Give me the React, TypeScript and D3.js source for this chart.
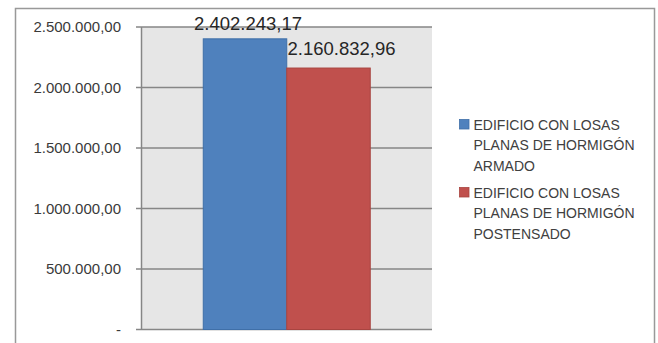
import React from "react";
import * as d3 from "d3";

const categories = ["Costo"];
const seriesNames = [
  ["EDIFICIO CON LOSAS", "PLANAS DE HORMIGÓN", "ARMADO"],
  ["EDIFICIO CON LOSAS", "PLANAS DE HORMIGÓN", "POSTENSADO"],
];
const seriesKeys = ["armado", "postensado"];
const seriesValues = [2402243.17, 2160832.96];
const seriesColors = ["#4f81bd", "#c0504d"];
const seriesStroke = ["#3f6fa8", "#a84440"];
const yTicks = [0, 500000, 1000000, 1500000, 2000000, 2500000];

const locale = d3.formatLocale({ decimal: ",", thousands: ".", grouping: [3], currency: ["", ""] });
const fmt = locale.format(",.2f");
const fmtTick = (v: number) => (v === 0 ? "-" : fmt(v));

export default function App() {
  const W = 658, H = 343;
  const plotL = 141.5, plotR = 432, plotT = 27, plotB = 329.5;
  const y = d3.scaleLinear().domain([0, 2500000]).range([plotB, plotT]);
  const x0 = d3.scaleBand<string>().domain(categories).range([plotL, plotR]).paddingInner(0.27).paddingOuter(0.27);
  const x1 = d3.scaleBand<string>().domain(seriesKeys).range([0, x0.bandwidth()]);
  const labelDx = [3, 13];
  const labelDy = [-9, -13];
  const font = "'Liberation Sans', Arial, sans-serif";

  return (
    <svg width={W} height={H} style={{ position: "absolute", left: 0, top: 0, background: "#fff" }}>
      <rect x={15.5} y={8.5} width={639} height={400} fill="#fff" stroke="#999" strokeWidth={1.5} />
      <rect x={plotL} y={plotT} width={plotR - plotL} height={plotB - plotT} fill="#e6e6e6" />
      {yTicks.map((t) => (
        <g key={t}>
          <line x1={136} x2={plotR} y1={y(t)} y2={y(t)} stroke="#868686" strokeWidth={1.5} />
          <text x={121} y={y(t) + 5} textAnchor="end" fontFamily={font} fontSize={15} fill="#3a3a3a">
            {fmtTick(t)}
          </text>
        </g>
      ))}
      <line x1={plotL} x2={plotL} y1={plotT} y2={plotB} stroke="#868686" strokeWidth={1.5} />
      {categories.map((c) => (
        <g key={c} transform={`translate(${x0(c)},0)`}>
          {seriesKeys.map((k, i) => (
            <g key={k}>
              <rect
                x={x1(k)!}
                y={y(seriesValues[i])}
                width={x1.bandwidth()}
                height={plotB - y(seriesValues[i])}
                fill={seriesColors[i]}
                stroke={seriesStroke[i]}
                strokeWidth={1}
              />
              <text
                x={x1(k)! + x1.bandwidth() / 2 + labelDx[i]}
                y={y(seriesValues[i]) + labelDy[i]}
                textAnchor="middle"
                fontFamily={font}
                fontSize={18.5}
                fill="#262626"
              >
                {fmt(seriesValues[i])}
              </text>
            </g>
          ))}
        </g>
      ))}
      {seriesNames.map((lines, i) => {
        const top = 119.5 + i * 68;
        return (
          <g key={i}>
            <rect x={459.5} y={top} width={9.5} height={9.5} fill={seriesColors[i]} stroke={seriesStroke[i]} strokeWidth={0.8} />
            {lines.map((ln, j) => (
              <text key={j} x={473.5} y={top + 10 + j * 20.5} fontFamily={font} fontSize={14} fill="#404040">
                {ln}
              </text>
            ))}
          </g>
        );
      })}
    </svg>
  );
}
